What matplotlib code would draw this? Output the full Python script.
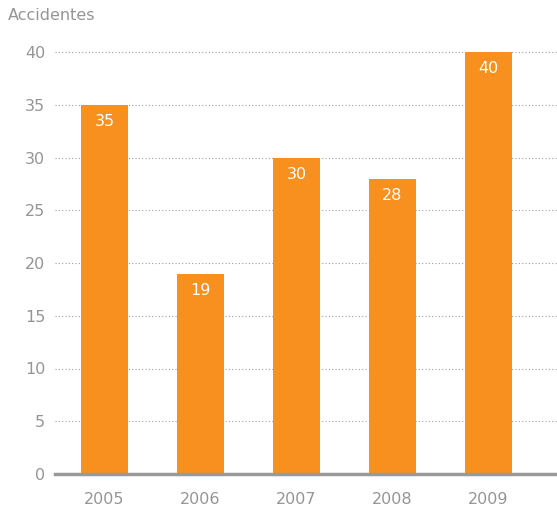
import matplotlib.pyplot as plt

# Accidentes por año
years = ["2005", "2006", "2007", "2008", "2009"]
accidents = [35, 19, 30, 28, 40]
y_ticks = [0, 5, 10, 15, 20, 25, 30, 35, 40]

bar_color = "#F7901E"
text_gray = "#959595"

plt.rcParams["font.family"] = ["DejaVu Sans"]

fig = plt.figure(figsize=(5.57, 5.31), dpi=100)
W, H = 557, 531
ax = fig.add_axes([55 / W, 57 / H, 1 - 55 / W, (474 - 52) / H])

x = range(len(years))
bars = ax.bar(x, accidents, width=0.49, color=bar_color, zorder=3)

for xi, v in zip(x, accidents):
    ax.text(xi, v - 0.9, str(v), ha="center", va="top", color="white",
            fontsize=11.5, zorder=4)

ax.set_xlim(-0.516, 4.713)
ax.set_ylim(0, 40)
ax.set_yticks(y_ticks)
ax.set_xticks(list(x))
ax.set_xticklabels(years)

for t in y_ticks[1:]:
    ax.axhline(t, color="#a0a0a0", linestyle=(0, (1, 2)), linewidth=0.8,
               zorder=1, clip_on=False)

for s in ["top", "right", "left"]:
    ax.spines[s].set_visible(False)
ax.spines["bottom"].set_color("#999999")
ax.spines["bottom"].set_linewidth(2.5)
ax.spines["bottom"].set_zorder(5)

ax.tick_params(axis="both", length=0, colors=text_gray, labelsize=11.5)
ax.tick_params(axis="y", pad=7)
ax.tick_params(axis="x", pad=13)

fig.text(8 / W, 1 - 16 / H, "Accidentes", color=text_gray, fontsize=11.5,
         ha="left", va="center")

fig.savefig("out.png", dpi=100)
